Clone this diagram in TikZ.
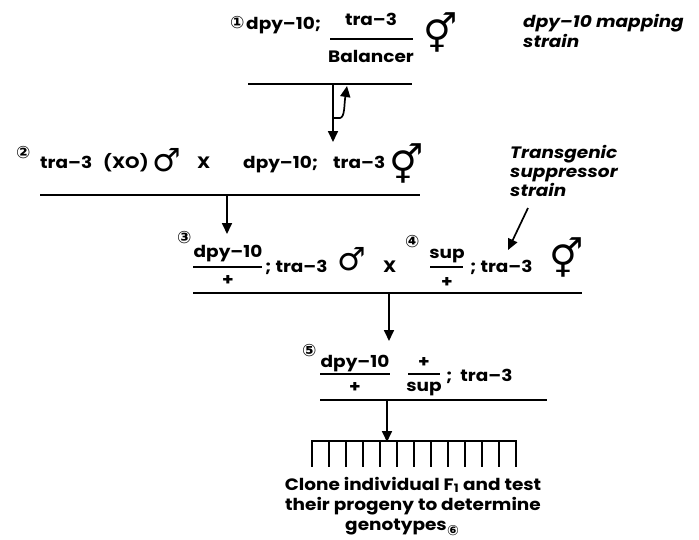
\documentclass[tikz,border=0pt]{standalone}
\usepackage{fontspec}
\setmainfont{Poppins}[FakeStretch=1.12]
\newfontfamily\symf{DejaVu Sans}
\usetikzlibrary{arrows.meta}
\tikzset{
  t/.style={anchor=base west,inner sep=0pt,font=\fontsize{16.5}{19}\selectfont\bfseries},
  tc/.style={anchor=base,inner sep=0pt,font=\fontsize{16.5}{19}\selectfont\bfseries},
  it/.style={anchor=base west,inner sep=0pt,font=\fontsize{16.5}{19}\selectfont\bfseries\itshape},
  num/.style={anchor=base west,inner sep=0pt,font=\fontsize{17}{17}\selectfont\symf\bfseries},
  male/.style={inner sep=0pt,font=\fontsize{32}{32}\selectfont\symf},
  herm/.style={inner sep=0pt,font=\fontsize{38}{38}\selectfont\symf},
  rule/.style={line width=1.7pt},
  bar/.style={line width=1.5pt},
  arr/.style={line width=1.7pt,-{Triangle[width=10pt,length=11pt]}}
}
\begin{document}
\begin{tikzpicture}[x=1pt,y=-1pt]
\useasboundingbox (0,0) rectangle (699,539);
% Row 1
\node[num] (n1) at (230,28) {①};
\node[t] (r1a) at (246,29) {dpy–10;};
\node[tc] (f1n) at (371,25) {tra–3};
\node[tc] (f1d) at (371,62) {Balancer};
\draw[bar] (330,39) -- (413,39);
\node[herm] (h1) at (441,32) {⚥};
\node[it] (m1) at (523,27) {dpy–10 mapping};
\node[it] (m2) at (523,47) {strain};
\coordinate (L1a) at (248,84); \coordinate (L1b) at (412,84);
\draw[rule] (L1a) -- (L1b);
\coordinate (A1s) at (333,84); \coordinate (A1e) at (333,142);
\draw[arr] (A1s) -- (A1e);
\coordinate (B1s) at (333,118); \coordinate (B1e) at (347,86);
\draw[arr] (B1s) -- (340,118) .. controls (345,117) and (344,105) .. (B1e);
% Row 2
\node[num] (n2) at (16,158) {②};
\node[t] (r2a) at (40,168) {tra–3};
\node[t] (r2b) at (103,168) {(XO)};
\node[male] (m2s) at (167,160) {♂};
\node[t] (r2x) at (197,168) {X};
\node[t] (r2c) at (243,168) {dpy–10;};
\node[t] (r2d) at (333,168) {tra–3};
\node[herm] (h2) at (407,163) {⚥};
\node[it] (ts1) at (510,158) {Transgenic};
\node[it] (ts2) at (510,177) {suppressor};
\node[it] (ts3) at (510,196) {strain};
\coordinate (L2a) at (40,195); \coordinate (L2b) at (420,195);
\draw[rule] (L2a) -- (L2b);
\coordinate (A2s) at (227,195); \coordinate (A2e) at (227,234);
\draw[arr] (A2s) -- (A2e);
\coordinate (T1s) at (528,208); \coordinate (T1e) at (508,250);
\draw[arr] (T1s) -- (T1e);
% Row 3
\node[num] (n3) at (177,243) {③};
\node[tc] (f3n) at (228,257) {dpy–10};
\node[tc] (f3d) at (228,285) {+};
\draw[bar] (193,267) -- (262,267);
\node[t] (r3a) at (265,272) {; tra–3};
\node[male] (m3s) at (352,259) {♂};
\node[t] (r3x) at (383,272) {X};
\node[num] (n4) at (405,247) {④};
\node[tc] (f4n) at (447,258) {sup};
\node[tc] (f4d) at (447,287) {+};
\draw[bar] (430,267) -- (463,267);
\node[t] (r3b) at (470,272) {; tra–3};
\node[herm] (h3) at (567,257) {⚥};
\coordinate (L3a) at (193,293); \coordinate (L3b) at (582,293);
\draw[rule] (L3a) -- (L3b);
\coordinate (A3s) at (389,293); \coordinate (A3e) at (389,341);
\draw[arr] (A3s) -- (A3e);
% Row 4
\node[num] (n5) at (302,356) {⑤};
\node[tc] (f5n) at (355,367) {dpy–10};
\node[tc] (f5d) at (355,392) {+};
\draw[bar] (320,374) -- (390,374);
\node[tc] (f6n) at (424,367) {+};
\node[tc] (f6d) at (424,391) {sup};
\draw[bar] (408,374) -- (440,374);
\node[t] (r4a) at (446,381) {;\ \ tra–3};
\coordinate (L4a) at (320,400); \coordinate (L4b) at (547,400);
\draw[rule] (L4a) -- (L4b);
\coordinate (A4s) at (387,400); \coordinate (A4e) at (387,442);
\draw[arr] (A4s) -- (A4e);
% Comb
\coordinate (Ca) at (311,441); \coordinate (Cb) at (517,441);
\draw[rule] (Ca) -- (Cb);
\foreach \i in {0,...,12} {
  \draw[rule] ({312+17*\i},441) -- ({312+17*\i},467);
}
\node[tc] (b1) at (413,490) {Clone individual F\textsubscript{1} and test};
\node[tc] (b2) at (413,510) {their progeny to determine};
\node[tc] (b3) at (396,530) {genotypes};
\node[num,font=\fontsize{14}{14}\selectfont\symf\bfseries] (n6) at (447,535) {⑥};
\end{tikzpicture}
\end{document}
